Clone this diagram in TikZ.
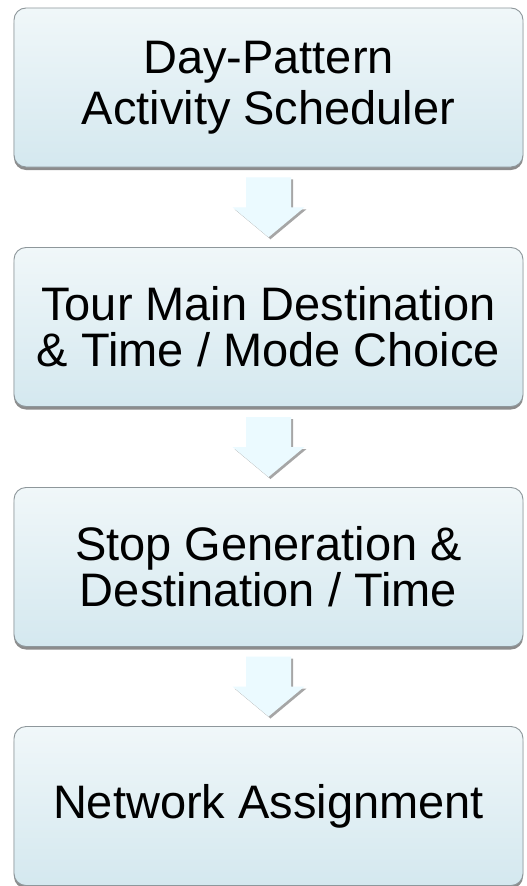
\documentclass[tikz,border=0pt]{standalone}
\usepackage{fontspec}
\setmainfont{Liberation Sans}
\usetikzlibrary{shadows,calc}
\definecolor{boxtop}{HTML}{F0F7F9}
\definecolor{boxbot}{HTML}{D4E8EF}
\definecolor{boxline}{HTML}{8E979B}
\definecolor{arrowfill}{HTML}{EBFAFF}
\begin{document}
\begin{tikzpicture}[x=1bp,y=-1bp,
  stagebox/.style={draw=boxline, line width=0.9bp, rounded corners=12bp,
    top color=boxtop, bottom color=boxbot,
    minimum width=509bp, minimum height=159bp, inner sep=0pt,
    align=center, font=\fontsize{47bp}{46bp}\selectfont,
    drop shadow={shadow xshift=0bp, shadow yshift=-3bp, opacity=0.45, fill=black}},
  blockarrow/.style={fill=arrowfill,
    drop shadow={shadow xshift=2bp, shadow yshift=-2bp, opacity=0.35, fill=black}}
]
\useasboundingbox (0,0) rectangle (527,886);
\fill[white] (0,0) rectangle (527,886);

\node[stagebox, font=\fontsize{47bp}{51bp}\selectfont] (b1) at (268.5,87.5) {Day-Pattern\\Activity Scheduler};
\node[stagebox] (b2) at (268.5,327) {Tour Main Destination\\\& Time / Mode Choice};
\node[stagebox] (b3) at (268.5,567) {Stop Generation \&\\Destination / Time};
\node[stagebox] (b4) at (268.5,806) {Network Assignment};

\foreach \u/\v [count=\i] in {b1/b2,b2/b3,b3/b4}{
  \coordinate (m\i) at ($(\u.south)!0.5!(\v.north)$);
  \fill[blockarrow] ([shift={(-22.5,-30)}]m\i) -- ++(45,0) -- ++(0,30) -- ++(13.5,0)
     -- ++(-36,30) -- ++(-36,-30) -- ++(13.5,0) -- cycle;
}
\end{tikzpicture}
\end{document}
